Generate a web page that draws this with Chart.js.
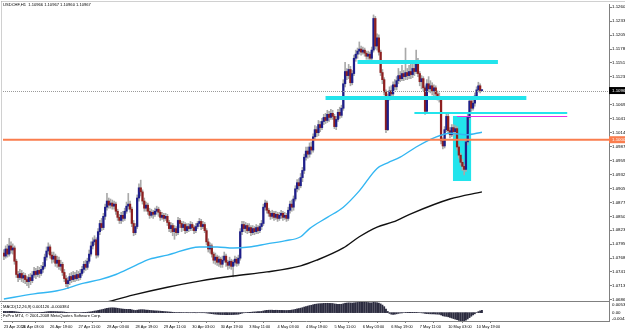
<!DOCTYPE html>
<html>
<head>
<meta charset="utf-8">
<script src="https://cdn.jsdelivr.net/npm/chart.js@4.4.0/dist/chart.umd.min.js"></script>
<style>
  html, body { margin: 0; padding: 0; background: #fff; }
  #wrap { position: relative; width: 625px; height: 330px; overflow: hidden; }
  canvas { position: absolute; left: 0; }
</style>
</head>
<body>
<div id="wrap">
  <canvas id="mainChart" width="625" height="302" style="top:0"></canvas>
  <canvas id="macdChart" width="625" height="29" style="top:301px"></canvas>
</div>
<script>
// prices in pips (1.0000 = 10000), one candle per H1 bar
const opens = [
  10778,10772,10786,10776,10792,10784,10788,10762,10736,10730,
  10738,10729,10734,10726,10722,10730,10724,10735,10742,10736,
  10744,10738,10746,10752,10770,10782,10790,10774,10766,10772,
  10758,10764,10752,10756,10740,10728,10718,10724,10732,10726,
  10734,10728,10736,10730,10738,10746,10756,10750,10762,10776,
  10792,10800,10804,10774,10820,10836,10828,10850,10868,10880,
  10872,10876,10870,10874,10860,10848,10842,10852,10846,10860,
  10870,10874,10864,10836,10818,10830,10886,10906,10898,10880,
  10866,10872,10860,10852,10858,10854,10860,10864,10858,10848,
  10852,10846,10850,10838,10826,10832,10820,10826,10818,10842,
  10836,10828,10834,10822,10830,10826,10834,10828,10822,10830,
  10836,10840,10830,10834,10822,10800,10786,10792,10776,10764,
  10770,10760,10766,10756,10764,10772,10760,10754,10762,10752,
  10760,10766,10758,10768,10820,10834,10826,10832,10822,10828,
  10818,10826,10820,10828,10822,10830,10836,10868,10876,10862,
  10856,10850,10856,10848,10854,10846,10852,10856,10848,10852,
  10846,10862,10874,10868,10884,10904,10916,10910,10926,10940,
  10966,10978,10972,10986,10980,11006,11020,11014,11030,11024,
  11036,11044,11038,11050,11044,11052,11046,11026,11040,11054,
  11048,11062,11110,11134,11126,11138,11112,11130,11160,11168,
  11174,11178,11172,11176,11170,11164,11168,11160,11176,11238,
  11184,11200,11172,11132,11118,11094,11020,11084,11096,11090,
  11108,11104,11116,11126,11120,11130,11124,11132,11126,11134,
  11128,11140,11134,11156,11130,11114,11120,11102,11056,11110,
  11100,11106,11096,11102,11090,11084,11080,10998,10988,11020,
  11046,11018,11010,11024,11016,11022,10986,10970,10956,10948,
  10942,10996,11044,11076,11062,11072,11086,11098,11106,11096.6
];
const highs = [
  10785,10792,10795,10807,10800,10796,10792,10766,10742,10746,
  10744,10740,10738,10732,10736,10738,10742,10750,10748,10752,
  10750,10754,10760,10776,10790,10798,10794,10780,10780,10776,
  10772,10770,10764,10760,10746,10734,10730,10738,10740,10742,
  10740,10744,10742,10746,10752,10762,10764,10768,10784,10800,
  10808,10812,10808,10826,10842,10846,10856,10874,10895,10886,
  10884,10882,10880,10878,10864,10854,10858,10860,10866,10878,
  10895,10880,10868,10842,10836,10892,10914,10921,10902,10886,
  10878,10876,10866,10864,10862,10866,10870,10868,10862,10858,
  10856,10856,10854,10842,10838,10836,10832,10830,10848,10846,
  10840,10840,10838,10836,10836,10840,10838,10832,10836,10840,
  10846,10844,10840,10838,10826,10806,10798,10796,10780,10778,
  10774,10772,10770,10772,10780,10776,10764,10770,10766,10764,
  10772,10770,10774,10826,10840,10840,10838,10836,10836,10832,
  10832,10830,10834,10832,10836,10842,10874,10882,10880,10866,
  10860,10862,10860,10860,10858,10858,10862,10860,10858,10856,
  10868,10880,10882,10890,10910,10922,10924,10934,10946,10972,
  10986,10986,10994,10996,11012,11028,11026,11038,11036,11042,
  11050,11052,11058,11056,11060,11058,11050,11046,11060,11064,
  11068,11118,11152,11140,11148,11144,11136,11166,11176,11180,
  11192,11184,11182,11180,11174,11174,11172,11182,11245,11242,
  11208,11206,11176,11138,11122,11098,11090,11104,11106,11114,
  11118,11124,11140,11134,11146,11136,11180,11140,11146,11150,
  11148,11150,11176,11160,11134,11126,11124,11106,11118,11124,
  11116,11112,11108,11106,11096,11092,11084,11004,11026,11053,
  11050,11024,11030,11030,11028,11026,10990,10974,10962,10952,
  11002,11050,11082,11084,11078,11092,11104,11113,11110,11096.7
];
const lows = [
  10765,10768,10770,10772,10778,10776,10756,10730,10722,10726,
  10722,10720,10718,10714,10710,10716,10720,10730,10728,10732,
  10730,10734,10740,10748,10764,10776,10768,10758,10760,10752,
  10750,10746,10744,10734,10722,10712,10708,10716,10720,10722,
  10722,10724,10724,10726,10734,10740,10744,10746,10758,10772,
  10786,10794,10768,10770,10814,10822,10824,10844,10862,10866,
  10866,10864,10864,10854,10842,10836,10836,10840,10842,10856,
  10864,10858,10830,10812,10814,10826,10880,10890,10874,10860,
  10860,10854,10846,10848,10846,10850,10854,10850,10842,10844,
  10840,10842,10832,10820,10818,10812,10805,10812,10814,10828,
  10820,10822,10816,10818,10820,10822,10822,10816,10818,10826,
  10830,10824,10826,10818,10794,10780,10778,10770,10758,10756,
  10754,10752,10750,10750,10760,10752,10746,10748,10746,10731,
  10754,10752,10754,10764,10814,10820,10818,10816,10818,10812,
  10814,10814,10816,10816,10818,10824,10832,10862,10856,10850,
  10844,10846,10842,10844,10840,10842,10846,10842,10844,10840,
  10842,10856,10860,10862,10880,10898,10902,10906,10918,10934,
  10960,10964,10966,10972,10976,11000,11006,11008,11016,11020,
  11030,11032,11034,11036,11040,11040,11022,11020,11036,11042,
  11044,11058,11104,11118,11120,11106,11108,11126,11154,11160,
  11168,11166,11168,11164,11158,11158,11154,11156,11172,11178,
  11176,11166,11126,11110,11088,11014,11018,11078,11082,11086,
  11098,11098,11110,11114,11116,11116,11118,11118,11120,11120,
  11122,11126,11130,11124,11106,11100,11096,11050,11052,11094,
  11092,11088,11086,11084,11078,11074,10992,10982,10984,11016,
  11012,11004,11006,11008,11010,10980,10964,10950,10940,10931,
  10938,10990,11040,11056,11058,11066,11080,11094,11092,11096
];
const closes = [
  10772,10786,10776,10792,10784,10788,10762,10736,10730,10738,
  10729,10734,10726,10722,10730,10724,10735,10742,10736,10744,
  10738,10746,10752,10770,10782,10790,10774,10766,10772,10758,
  10764,10752,10756,10740,10728,10718,10724,10732,10726,10734,
  10728,10736,10730,10738,10746,10756,10750,10762,10776,10792,
  10800,10804,10774,10820,10836,10828,10850,10868,10880,10872,
  10876,10870,10874,10860,10848,10842,10852,10846,10860,10870,
  10874,10864,10836,10818,10830,10886,10906,10898,10880,10866,
  10872,10860,10852,10858,10854,10860,10864,10858,10848,10852,
  10846,10850,10838,10826,10832,10820,10826,10818,10842,10836,
  10828,10834,10822,10830,10826,10834,10828,10822,10830,10836,
  10840,10830,10834,10822,10800,10786,10792,10776,10764,10770,
  10760,10766,10756,10764,10772,10760,10754,10762,10752,10760,
  10766,10758,10768,10820,10834,10826,10832,10822,10828,10818,
  10826,10820,10828,10822,10830,10836,10868,10876,10862,10856,
  10850,10856,10848,10854,10846,10852,10856,10848,10852,10846,
  10862,10874,10868,10884,10904,10916,10910,10926,10940,10966,
  10978,10972,10986,10980,11006,11020,11014,11030,11024,11036,
  11044,11038,11050,11044,11052,11046,11026,11040,11054,11048,
  11062,11110,11134,11126,11138,11112,11130,11160,11168,11174,
  11178,11172,11176,11170,11164,11168,11160,11176,11238,11184,
  11200,11172,11132,11118,11094,11020,11084,11096,11090,11108,
  11104,11116,11126,11120,11130,11124,11132,11126,11134,11128,
  11140,11134,11156,11130,11114,11120,11102,11056,11110,11100,
  11106,11096,11102,11090,11084,11080,10998,10988,11020,11046,
  11018,11010,11024,11016,11022,10986,10970,10956,10948,10942,
  10996,11044,11076,11062,11072,11086,11098,11106,11096.6,11096.7
];

// MACD(12,26,9) main line, in units of 0.00001
const macdHist = [
  60,62,60,64,66,64,55,40,28,20,
  12,8,2,-4,-6,-8,-6,-2,2,6,
  10,14,18,28,40,52,56,56,56,52,
  50,46,44,38,28,16,8,4,0,-2,
  -4,-2,0,2,6,12,16,22,32,46,
  60,80,90,110,130,150,170,195,215,230,
  240,244,240,232,220,204,190,178,170,166,
  164,160,144,124,110,124,140,150,150,144,
  134,126,116,108,100,94,88,82,74,66,
  58,52,44,34,26,18,12,6,8,8,
  6,4,0,-2,-4,-4,-4,-6,-6,-4,
  -2,-4,-4,-6,-16,-30,-40,-52,-66,-76,
  -84,-90,-96,-98,-98,-100,-102,-100,-100,-96,
  -90,-86,-80,-52,-26,-8,4,10,16,18,
  30,36,42,48,54,62,84,104,116,122,
  124,124,122,120,118,116,114,112,110,108,
  112,122,130,144,164,190,206,226,250,282,
  310,330,356,372,398,420,432,446,452,460,
  466,468,470,466,464,460,440,428,424,420,
  424,448,474,484,494,488,484,494,504,514,
  520,522,524,522,516,508,498,496,535,510,
  500,480,440,380,300,180,60,-40,-80,-90,
  -80,-60,-40,-20,-10,0,10,14,16,16,
  16,14,12,8,0,-10,-20,-40,-50,-56,
  -60,-64,-68,-72,-78,-84,-120,-160,-180,-190,
  -210,-240,-270,-300,-330,-360,-390,-410,-421,-420,
  -380,-320,-250,-180,-120,-60,0,50,90,113
];

// moving averages read at sample bars
const maBlueBars = [0,17,30,45,54,63,73,82,92,110,120,129,138,148,158,167,172,182,191,200,210,216,223,232,242,251,260,269];
const maBlueVals = [10688,10698,10704,10719,10726,10736,10752,10766,10774,10790,10790,10788,10790,10796,10802,10810,10826,10848,10868,10900,10944,10955,10966,10986,11004,11013,11010,11015];
const maBlackBars = [58,73,92,110,129,148,167,176,191,200,210,219,229,251,269];
const maBlackVals = [10682,10696,10711,10723,10733,10741,10753,10764,10788,10810,10829,10839,10855,10884,10898];

// axis ticks
const timeTickBars = [0,10,26,42,58,74,90,106,122,138,154,170,186,202,218,234,250,266];
const timeTickLabels = ['23 Apr 2010','26 Apr 03:00','26 Apr 19:00','27 Apr 11:00','28 Apr 03:00','28 Apr 19:00','29 Apr 11:00','30 Apr 03:00','30 Apr 19:00','3 May 11:00','4 May 03:00','4 May 19:00','5 May 11:00','6 May 03:00','6 May 19:00','7 May 11:00','10 May 03:00','10 May 19:00'];
const priceTicks = [11260.5,11233,11205.5,11178,11151,11123.5,11096,11069,11041.5,11014.5,10987,10959.5,10932,10905,10877.5,10850,10823,10795.5,10768,10741,10713.5,10686];
const macdTicks = [535, 0, -421];
const macdTickLabels = ['0.00535', '0.00', '-0.00421'];

// drawn objects
const bidPrice = 11096.7;
const orangeLevel = 11000.3;
const cyanLevels = [11152.6, 11082.0, 11052.6];
const cyanFrom = [199, 181, 231];
const cyanTo = [278, 294, 317];
const magentaLevel = 11046.8;
const magentaFrom = 255, magentaTo = 317;
const boxFrom = 252.7, boxTo = 262.9, boxTop = 11046.8, boxBottom = 10919.3;

const chartTitle = 'USDCHF,H1  1.10966 1.10967 1.10960 1.10967';
const macdTitle = 'MACD(12,26,9) 0.001126 -0.000384';
const copyright = 'FxPro MT4, \u00a9 2001-2008 MetaQuotes Software Corp.';

const FONT = '"Liberation Sans", Arial, sans-serif';
const FS = 4.1;      // text inside panes
const FS_AXIS = 4.4; // price labels
const FS_TIME = 3.9; // time labels
const BULL = '#1e1e8a';
const BEAR = '#8e1f1f';
const X_MIN = -0.5, X_MAX = 340.5;

function txt(ctx, s, x, y, color, size) {
  ctx.save();
  ctx.font = (size || FS) + 'px ' + FONT;
  ctx.fillStyle = color || '#000';
  ctx.textAlign = 'left';
  ctx.textBaseline = 'middle';
  ctx.fillText(s, x, y);
  ctx.restore();
}

const mainOverlay = {
  id: 'mainOverlay',
  beforeDatasetsDraw(chart) {
    const {ctx, scales: {x, y}} = chart;
    ctx.save();
    ctx.fillStyle = '#22e4ec';
    const x0 = x.getPixelForValue(boxFrom), x1 = x.getPixelForValue(boxTo);
    const y0 = y.getPixelForValue(boxTop), y1 = y.getPixelForValue(boxBottom);
    ctx.fillRect(x0, y0, x1 - x0, y1 - y0);
    ctx.restore();
  },
  afterDatasetsDraw(chart) {
    const {ctx, chartArea: a, scales: {x, y}} = chart;
    ctx.save();
    // bid line
    ctx.strokeStyle = '#9a9a9a';
    ctx.lineWidth = 1;
    ctx.setLineDash([1, 1]);
    let py = Math.round(y.getPixelForValue(bidPrice)) + 0.5;
    ctx.beginPath(); ctx.moveTo(a.left, py); ctx.lineTo(a.right, py); ctx.stroke();
    ctx.setLineDash([]);
    // orange level
    ctx.strokeStyle = '#fa7d4e';
    ctx.lineWidth = 2;
    py = y.getPixelForValue(orangeLevel);
    ctx.beginPath(); ctx.moveTo(a.left, py); ctx.lineTo(a.right, py); ctx.stroke();
    // cyan levels
    const cw = [4, 4, 2];
    ctx.strokeStyle = '#22e4ec';
    cyanLevels.forEach((lv, i) => {
      ctx.lineWidth = cw[i];
      const yy = y.getPixelForValue(lv);
      ctx.beginPath();
      ctx.moveTo(x.getPixelForValue(cyanFrom[i]), yy);
      ctx.lineTo(x.getPixelForValue(cyanTo[i]), yy);
      ctx.stroke();
    });
    // magenta level
    ctx.strokeStyle = '#e630e6';
    ctx.lineWidth = 1;
    py = Math.round(y.getPixelForValue(magentaLevel)) + 0.5;
    ctx.beginPath();
    ctx.moveTo(x.getPixelForValue(magentaFrom), py);
    ctx.lineTo(x.getPixelForValue(magentaTo), py);
    ctx.stroke();
    ctx.restore();
  },
  afterDraw(chart) {
    const {ctx, chartArea: a, scales: {y}} = chart;
    ctx.save();
    // pane frame
    ctx.strokeStyle = '#a0a0a0';
    ctx.lineWidth = 1;
    ctx.setLineDash([1, 1]);
    ctx.beginPath(); ctx.moveTo(1.5, 1.5); ctx.lineTo(625, 1.5); ctx.moveTo(1.5, 1.5); ctx.lineTo(1.5, 302); ctx.stroke();
    ctx.setLineDash([]);
    ctx.strokeStyle = '#808080';
    ctx.beginPath(); ctx.moveTo(0, a.bottom + 0.5); ctx.lineTo(a.right, a.bottom + 0.5); ctx.stroke();
    // price boxes on the axis
    const boxes = [[bidPrice, '#000000'], [orangeLevel, '#fa7d4e']];
    boxes.forEach(([v, c]) => {
      const yy = y.getPixelForValue(v);
      ctx.fillStyle = c;
      ctx.fillRect(a.right, yy - 3.5, 625 - a.right, 7);
      txt(ctx, (v / 10000).toFixed(5), a.right + 3, yy, '#ffffff', FS_AXIS);
    });
    txt(ctx, chartTitle, 3, 5, '#000');
    ctx.restore();
  }
};

const macdOverlay = {
  id: 'macdOverlay',
  afterDraw(chart) {
    const {ctx, chartArea: a, scales: {y}} = chart;
    ctx.save();
    ctx.strokeStyle = '#808080';
    ctx.lineWidth = 1;
    ctx.beginPath(); ctx.moveTo(0, a.top - 0.5); ctx.lineTo(a.right, a.top - 0.5); ctx.stroke();
    ctx.strokeStyle = '#a0a0a0';
    ctx.setLineDash([1, 1]);
    ctx.beginPath(); ctx.moveTo(1.5, 0); ctx.lineTo(1.5, a.bottom); ctx.stroke();
    ctx.setLineDash([]);
    macdTicks.forEach((v, i) => {
      let yy = y.getPixelForValue(v);
      yy = Math.min(Math.max(yy, a.top + 3), a.bottom - 2.5);
      txt(ctx, macdTickLabels[i], a.right + 3, yy, '#000', FS_AXIS);
    });
    txt(ctx, macdTitle, 3, 5.5, '#000');
    txt(ctx, copyright, 3, 15, '#000');
    ctx.restore();
  }
};

Chart.defaults.font.family = FONT;
Chart.defaults.font.size = FS;

new Chart(document.getElementById('mainChart'), {
  type: 'bar',
  data: {
    datasets: [
      {
        type: 'line', label: 'ma100', order: 0,
        data: maBlueBars.map((b, i) => ({x: b, y: maBlueVals[i]})),
        borderColor: '#33b6f2', borderWidth: 1.4, pointRadius: 0,
        cubicInterpolationMode: 'monotone', fill: false
      },
      {
        type: 'line', label: 'ma200', order: 0,
        data: maBlackBars.map((b, i) => ({x: b, y: maBlackVals[i]})),
        borderColor: '#111111', borderWidth: 1.4, pointRadius: 0,
        cubicInterpolationMode: 'monotone', fill: false
      },
      {
        label: 'body', order: 1, grouped: false,
        data: opens.map((o, i) => ({x: i, y: [o, closes[i]]})),
        backgroundColor: ctx => closes[ctx.dataIndex] >= opens[ctx.dataIndex] ? BULL : BEAR,
        barThickness: 1.6, minBarLength: 1, borderWidth: 0
      },
      {
        label: 'wick', order: 2, grouped: false,
        data: lows.map((l, i) => ({x: i, y: [l, highs[i]]})),
        backgroundColor: '#a9a9a9',
        barThickness: 1, borderWidth: 0
      }
    ]
  },
  options: {
    responsive: false,
    animation: false,
    devicePixelRatio: 1,
    events: [],
    layout: { padding: { left: 3, top: 4, right: 0, bottom: 1 } },
    plugins: { legend: { display: false }, tooltip: { enabled: false } },
    scales: {
      x: { type: 'linear', min: X_MIN, max: X_MAX, offset: false, display: false },
      y: {
        position: 'right', min: 10684, max: 11266.4,
        afterBuildTicks: a => { a.ticks = priceTicks.map(v => ({value: v})); },
        afterFit: a => { a.width = 16; a.paddingTop = 0; a.paddingBottom = 0; },
        ticks: {
          autoSkip: false, padding: 0, color: '#000',
          font: { size: FS_AXIS, family: FONT },
          callback: v => (v / 10000).toFixed(5)
        },
        grid: { drawOnChartArea: false, tickLength: 3, color: '#808080' },
        border: { color: '#808080' }
      }
    }
  },
  plugins: [mainOverlay]
});

new Chart(document.getElementById('macdChart'), {
  type: 'bar',
  data: {
    datasets: [{
      label: 'macd', grouped: false,
      data: macdHist.map((v, i) => ({x: i, y: v})),
      backgroundColor: '#2c2c40',
      barThickness: 1.2, borderWidth: 0
    }]
  },
  options: {
    responsive: false,
    animation: false,
    devicePixelRatio: 1,
    events: [],
    layout: { padding: { left: 3, top: 1, right: 0, bottom: 0 } },
    plugins: { legend: { display: false }, tooltip: { enabled: false } },
    scales: {
      x: {
        type: 'linear', min: X_MIN, max: X_MAX, offset: false,
        afterBuildTicks: a => { a.ticks = timeTickBars.map(v => ({value: v})); },
        afterFit: a => { a.height = 9; a.paddingLeft = 0; a.paddingRight = 0; },
        ticks: {
          autoSkip: false, maxRotation: 0, minRotation: 0, align: 'start', padding: 1.5,
          color: '#000', font: { size: FS_TIME, family: FONT },
          callback: (v, i) => timeTickLabels[i]
        },
        grid: { drawOnChartArea: false, tickLength: 2, color: '#808080' },
        border: { color: '#808080' }
      },
      y: {
        position: 'right', min: -421, max: 535,
        afterFit: a => { a.width = 16; a.paddingTop = 0; a.paddingBottom = 0; },
        ticks: { display: false },
        grid: { display: false },
        border: { color: '#808080' }
      }
    }
  },
  plugins: [macdOverlay]
});
</script>
</body>
</html>
